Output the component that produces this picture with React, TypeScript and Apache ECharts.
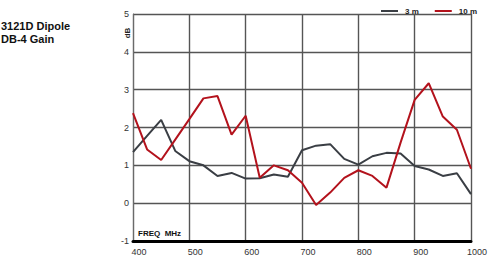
import React, { useEffect, useRef } from "react";
import * as echarts from "echarts";

const freqs = [400, 425, 450, 475, 500, 525, 550, 575, 600, 625, 650, 675, 700, 725, 750, 775, 800, 825, 850, 875, 900, 925, 950, 975, 1000];
const gain3m = [1.35, 1.78, 2.2, 1.38, 1.11, 1.0, 0.72, 0.8, 0.65, 0.66, 0.76, 0.7, 1.4, 1.52, 1.56, 1.17, 1.02, 1.24, 1.33, 1.31, 0.98, 0.89, 0.72, 0.79, 0.24];
const gain10m = [2.38, 1.42, 1.14, 1.68, 2.22, 2.77, 2.83, 1.81, 2.31, 0.67, 1.0, 0.87, 0.54, -0.05, 0.28, 0.67, 0.87, 0.72, 0.41, 1.6, 2.73, 3.17, 2.29, 1.94, 0.91];
const seriesNames = ["3 m", "10 m"];
const titleLines = ["3121D Dipole", "DB-4 Gain"];

const FONT = "'Liberation Sans', Arial, sans-serif";

export default function App() {
  const ref = useRef<HTMLDivElement>(null);
  useEffect(() => {
    if (!ref.current) return;
    const chart = echarts.init(ref.current, undefined, { renderer: "svg" });
    chart.setOption({
      animation: false,
      backgroundColor: "#ffffff",
      textStyle: { fontFamily: FONT },
      grid: { left: 133, right: 13, top: 14, bottom: 17 },
      legend: {
        right: 8,
        top: 2,
        itemWidth: 17,
        itemHeight: 2,
        itemGap: 16,
        icon: "rect",
        textStyle: { fontSize: 8, fontWeight: "bold", color: "#222", fontFamily: FONT, padding: [0, 0, 0, 2] },
        data: [
          { name: seriesNames[0], itemStyle: { color: "#3a3e44" } },
          { name: seriesNames[1], itemStyle: { color: "#b3121c" } },
        ],
      },
      xAxis: {
        type: "value",
        min: 400,
        max: 1000,
        interval: 100,
        axisLine: { show: true, onZero: false, lineStyle: { color: "#000", width: 3 } },
        axisTick: { show: false },
        splitLine: { show: true, lineStyle: { color: "#555", width: 1.4 } },
        axisLabel: {
          color: "#333",
          fontSize: 9,
          fontFamily: FONT,
          margin: 6,
          padding: [0, 0, 0, 12],
          showMaxLabel: true,
          formatter: (v: number) => String(v),
        },
      },
      yAxis: {
        type: "value",
        min: -1,
        max: 5,
        interval: 1,
        axisLine: { show: true, lineStyle: { color: "#6a6a6a", width: 1 } },
        axisTick: { show: false },
        splitLine: { show: true, lineStyle: { color: "#555", width: 1.4 } },
        axisLabel: { color: "#333", fontSize: 9, fontFamily: FONT, margin: 4 },
      },
      graphic: [
        {
          type: "text",
          left: 1,
          top: 19,
          style: {
            text: titleLines.join("\n"),
            font: `bold 11px ${FONT}`,
            lineHeight: 13,
            fill: "#111",
          },
        },
        {
          type: "text",
          x: 131,
          y: 33,
          rotation: Math.PI / 2,
          style: {
            text: "dB",
            font: `bold 8px ${FONT}`,
            fill: "#222",
            align: "center",
            verticalAlign: "bottom",
          },
        },
        {
          type: "text",
          x: 138,
          y: 229,
          style: {
            text: "FREQ  MHz",
            font: `bold 8px ${FONT}`,
            fill: "#111",
          },
        },
      ],
      series: [
        {
          name: seriesNames[0],
          type: "line",
          data: freqs.map((f, i) => [f, gain3m[i]]),
          symbol: "none",
          lineStyle: { color: "#3a3e44", width: 2 },
          itemStyle: { color: "#3a3e44" },
          z: 3,
        },
        {
          name: seriesNames[1],
          type: "line",
          data: freqs.map((f, i) => [f, gain10m[i]]),
          symbol: "none",
          lineStyle: { color: "#b3121c", width: 2 },
          itemStyle: { color: "#b3121c" },
          z: 4,
        },
      ],
    });
    return () => chart.dispose();
  }, []);
  return <div ref={ref} style={{ width: 490, height: 258, position: "absolute", left: 0, top: 0 }} />;
}
